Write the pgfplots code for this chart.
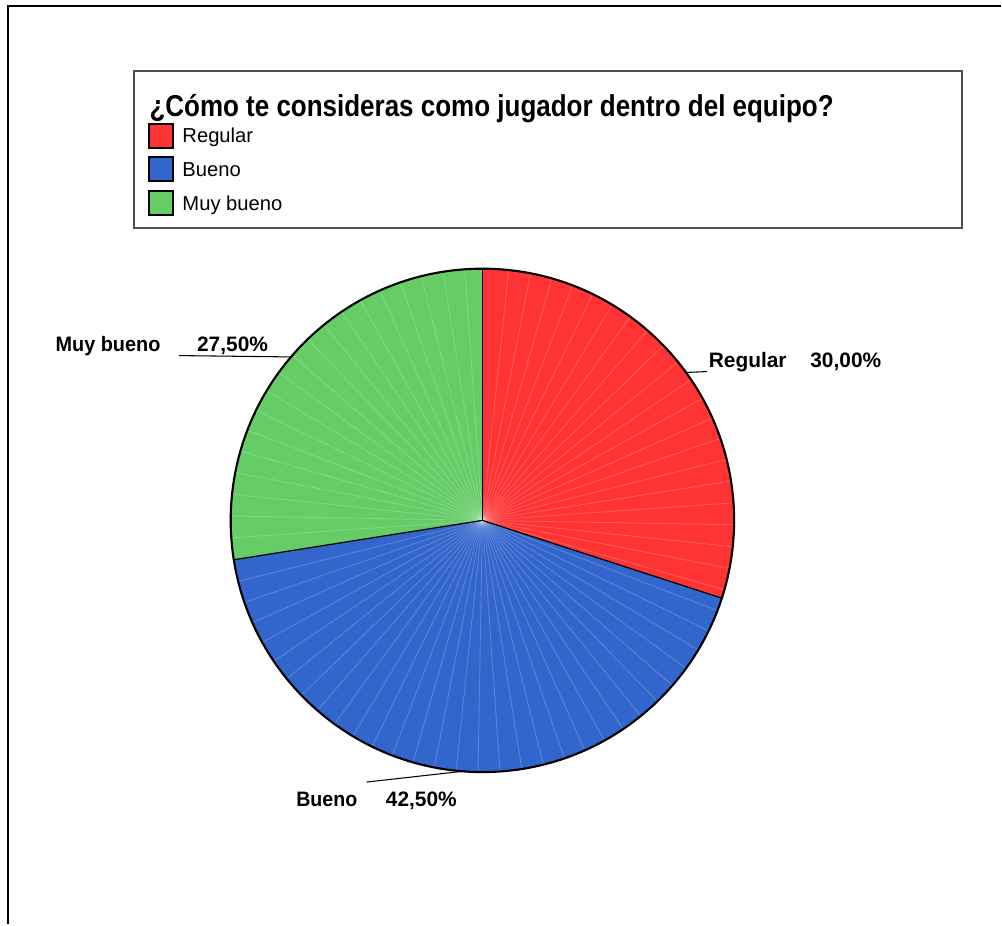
\documentclass[border=0pt]{standalone}
\usepackage{pgfplots}
\usepackage{pgfplotstable}
\pgfplotsset{compat=1.18}
\usepackage{fontspec}
\setmainfont{Liberation Sans}

\definecolor{regred}{RGB}{255,51,51}
\definecolor{buenoblue}{RGB}{51,102,204}
\definecolor{muygreen}{RGB}{102,204,102}
\definecolor{boxgray}{RGB}{80,80,80}

% share of each answer, in per cent
\pgfplotstableread[col sep=comma]{
label,pct
Regular,30.00
Bueno,42.50
Muy bueno,27.50
}\piedata

\newcommand\titlefont{\fontsize{8.6}{10}\selectfont\bfseries}
\newcommand\legfont{\fontsize{5.75}{7}\selectfont}
\newcommand\lblfont{\fontsize{5.95}{7}\selectfont\bfseries}

\begin{document}
\begin{tikzpicture}
\pgfplotstablegetelem{0}{pct}\of\piedata \let\pA\pgfplotsretval
\pgfplotstablegetelem{1}{pct}\of\piedata \let\pB\pgfplotsretval
\pgfplotstablegetelem{2}{pct}\of\piedata \let\pC\pgfplotsretval
% slice boundaries, clockwise from twelve o'clock
\pgfmathsetmacro\aA{90}
\pgfmathsetmacro\aB{\aA-3.6*\pA}
\pgfmathsetmacro\aC{\aB-3.6*\pB}
\pgfmathsetmacro\aD{\aC-3.6*\pC}
% middle of each slice, where its leader line starts
\pgfmathsetmacro\mA{(\aA+\aB)/2}
\pgfmathsetmacro\mB{(\aB+\aC)/2}
\pgfmathsetmacro\mC{(\aC+\aD)/2}
\def\R{2.52cm}
\begin{axis}[
  scale only axis, width=10.02cm, height=9.25cm,
  xmin=0, xmax=1002, ymin=0, ymax=925, y dir=reverse,
  hide axis, clip=false]
\path (axis cs:0,0) rectangle (axis cs:1002,925);

% outer frame
\draw[line width=0.7pt] (axis cs:8,925) -- (axis cs:8,6) -- (axis cs:1002,6);

% legend box
\draw[boxgray, line width=0.55pt] (axis cs:134,71) rectangle (axis cs:963,228);
\node[anchor=base west, inner sep=0pt] at (axis cs:149,117)
  {\resizebox{6.85cm}{\height}{\titlefont ¿Cómo te consideras como jugador dentro del equipo?}};
\draw[fill=regred, line width=0.5pt] (axis cs:149,124) rectangle (axis cs:173,148);
\draw[fill=buenoblue, line width=0.5pt] (axis cs:149,157) rectangle (axis cs:173,181);
\draw[fill=muygreen, line width=0.5pt] (axis cs:149,191) rectangle (axis cs:173,215);
\node[anchor=base west, inner sep=0pt, font=\legfont] at (axis cs:182,143) {Regular};
\node[anchor=base west, inner sep=0pt, font=\legfont] at (axis cs:182,177) {Bueno};
\node[anchor=base west, inner sep=0pt, font=\legfont] at (axis cs:182,211) {Muy bueno};

% slices
\fill[regred] (axis cs:483,521) -- ++(\aA:\R) arc[start angle=\aA, end angle=\aB, radius=\R] -- cycle;
\fill[buenoblue] (axis cs:483,521) -- ++(\aB:\R) arc[start angle=\aB, end angle=\aC, radius=\R] -- cycle;
\fill[muygreen] (axis cs:483,521) -- ++(\aC:\R) arc[start angle=\aC, end angle=\aD, radius=\R] -- cycle;

% faint rendering seams
\pgfplotsinvokeforeach{-266,-261,...,86}{
  \draw[white, opacity=0.2, line width=0.25pt] (axis cs:483,521) -- ++(#1:\R);
}

% slice borders and rim
\draw[line width=0.35pt] (axis cs:483,521) -- ++(\aA:\R);
\draw[line width=0.35pt] (axis cs:483,521) -- ++(\aB:\R);
\draw[line width=0.35pt] (axis cs:483,521) -- ++(\aC:\R);
\draw[line width=0.6pt] (axis cs:483,521) ++(0:\R) arc[start angle=0, end angle=360, radius=\R];

% leader lines and labels
\draw[line width=0.3pt] (axis cs:483,521) ++(\mA:\R) -- (axis cs:708,372);
\draw[line width=0.3pt] (axis cs:483,521) ++(\mB:\R) -- (axis cs:367,783);
\draw[line width=0.3pt] (axis cs:483,521) ++(\mC:\R) -- (axis cs:179,356);

\node[anchor=base west, inner sep=0pt, font=\lblfont] at (axis cs:709,368) {Regular};
\node[anchor=base east, inner sep=0pt, font=\lblfont] at (axis cs:883,368) {30,00\%};
\node[anchor=base west, inner sep=0pt, font=\lblfont] at (axis cs:296,807) {\resizebox{61\dimexpr 0.01cm\relax}{\height}{Bueno}};
\node[anchor=base east, inner sep=0pt, font=\lblfont] at (axis cs:458,807) {42,50\%};
\node[anchor=base west, inner sep=0pt, font=\lblfont] at (axis cs:55,352) {\resizebox{105\dimexpr 0.01cm\relax}{\height}{Muy bueno}};
\node[anchor=base east, inner sep=0pt, font=\lblfont] at (axis cs:269,352) {27,50\%};
\end{axis}
\end{tikzpicture}
\end{document}
